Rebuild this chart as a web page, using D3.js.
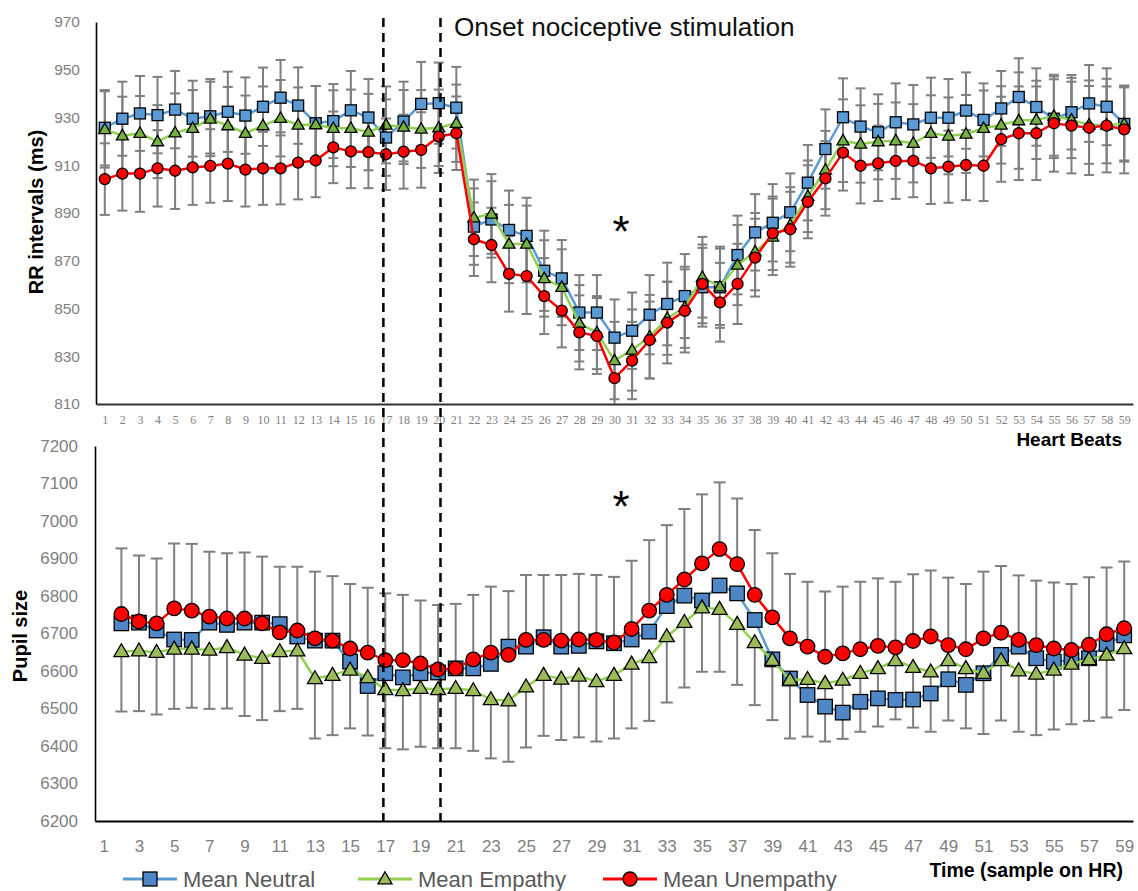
<!DOCTYPE html>
<html><head><meta charset="utf-8">
<script src="https://cdn.jsdelivr.net/npm/d3@7"></script>
<style>body{margin:0;background:#fff;} svg{display:block;}</style>
</head><body>
<svg id="chart" width="1138" height="891"></svg>
<script>
// ---------------- DATA ----------------
const beats = [1,2,3,4,5,6,7,8,9,10,11,12,13,14,15,16,17,18,19,20,21,22,23,24,25,26,27,28,29,30,31,32,33,34,35,36,37,38,39,40,41,42,43,44,45,46,47,48,49,50,51,52,53,54,55,56,57,58,59];
const pupilBeats = beats.slice(1);           // pupil samples start at beat 2
const rrTicks = [810,830,850,870,890,910,930,950,970];
const pupilTicks = [6200,6300,6400,6500,6600,6700,6800,6900,7000,7100,7200];
const pupilXTicks = [1,3,5,7,9,11,13,15,17,19,21,23,25,27,29,31,33,35,37,39,41,43,45,47,49,51,53,55,57,59];
const seriesNames = ["Mean Neutral","Mean Empathy","Mean Unempathy"];
const onsetMarks = [16.85, 20.1];

// RR intervals (ms), beats 1..59
const rrNeutral = [925.7,929.5,931.7,931,933.3,929.5,930.5,932.4,930.8,934.5,938.3,935,927.6,928.5,933,930,921.6,928.3,935.7,936,934.1,884.3,887.3,882.9,880.4,865.8,862.6,848.3,848.3,837.8,840.7,847.4,851.9,855.2,858.9,858.9,872.4,881.9,885.9,890.3,902.7,916.8,930.1,926.2,923.8,928,927.1,929.9,929.9,932.9,929,933.8,938.6,934.4,929.5,932.2,935.9,934.5,927.3];
const rrEmpathy = [925,922.4,923.4,919.9,923.6,925.5,929.4,926.6,923.4,926.6,929.7,926.9,927.1,925.5,925.5,923.9,926.9,926,925.2,925.7,927.6,888,889.6,877,877,862.6,858.9,843.8,839.9,828.2,832.6,838.2,845.9,850.5,863.1,859.1,868.2,873.8,880,885,897,908,920.3,918.9,919.9,920.3,919.2,923.4,922.3,923.1,925.5,926.9,928.7,929,930.6,929,926.9,926.9,927.3];
const rrUnempathy = [904.2,906.5,906.5,908.7,907.7,909.1,909.7,910.7,908.2,908.7,908.7,911.1,912,917.5,915.8,915.5,914.6,915.7,916.4,922,923.4,879,876.6,864.5,863.6,855.2,849.1,840,838.5,820.8,828.2,836.8,844.1,849,860.3,852.6,860.3,871.3,881.5,883.2,894.7,904.5,915.3,909.8,910.8,911.8,911.8,908.7,909.4,910.1,909.8,920.9,923.4,923.4,927.6,926.6,925.7,926.6,925];
// RR error (ms)
const rrNeutralErr = [15.8,15.5,15.7,16,16.2,15.9,15.6,16.8,16,16.4,15.8,16,15.6,15.5,16.5,16.1,16,16.7,17.6,17,17.1,16,16,16.5,16,16.8,16.1,15.7,15.7,16,16,16.6,17.3,17.6,16.5,17,16.5,16,16.2,16.3,15.8,16.6,16.3,16,15.9,16.3,16.5,16.8,16.2,16,15.3,15.7,16.2,16.2,16.5,15.6,16.1,16.1,15.3];
const rrEmpathyErr = [16,16.3,15.6,15.3,16.5,16,15.6,16.2,15.8,16.4,16,15.7,16.1,15.9,16.2,16,16.1,15.5,16.3,16,16.2,16,16.7,16.4,16.1,16,15.9,16,15.3,16.2,17,17.5,15.3,17,16.9,16,16.8,16.2,16,15.8,15,16.4,17.3,16.2,15.8,16,16.4,15.9,16.1,16.3,15.8,16.2,20.2,16.4,16.6,16,16.3,16.1,15.8];
const rrUnempathyErr = [15,15.5,16,16,16,15.7,15.4,15.7,15.5,15.3,15.1,15.4,15.4,15,15.4,15.1,15,15.5,15.8,15.2,15.4,15.4,15.6,15.8,15.9,15.9,15.4,15.5,15.9,16.2,16.2,16.1,17.1,17.4,16.5,16.5,16.8,16.3,15.4,15.7,15.3,15.6,15.9,15.8,15.8,15.9,15.2,14.9,15.1,14.7,14.8,17.8,19.6,19.6,20.3,20,19.8,19.6,18.4];

// Pupil size, beats 2..59
const pupilNeutral = [6727,6729,6708,6684,6683,6729,6723,6729,6729,6725,6692,6681,6681,6625,6560,6594,6583,6594,6596,6607,6607,6619,6665,6665,6690,6665,6667,6679,6674,6684,6705,6773,6801,6788,6828,6807,6736,6631,6580,6536,6505,6489,6518,6527,6523,6524,6540,6578,6563,6594,6643,6665,6634,6625,6629,6634,6672,6695];
const pupilEmpathy = [6652,6654,6650,6659,6659,6656,6663,6643,6634,6652,6654,6580,6589,6603,6583,6551,6548,6554,6551,6554,6548,6524,6521,6558,6589,6579,6587,6572,6589,6619,6636,6692,6730,6769,6765,6725,6676,6629,6576,6578,6567,6576,6594,6607,6628,6610,6598,6628,6607,6594,6628,6601,6592,6603,6619,6631,6643,6660];
const pupilUnempathy = [6752,6732,6727,6767,6761,6745,6740,6740,6727,6703,6708,6687,6681,6660,6649,6629,6629,6620,6604,6607,6631,6649,6643,6683,6683,6681,6684,6683,6676,6712,6761,6803,6844,6887,6925,6885,6803,6743,6687,6665,6638,6647,6658,6667,6663,6680,6692,6669,6658,6687,6702,6683,6669,6660,6656,6670,6698,6714];
// Pupil error bars: Empathy drawn downward, Unempathy drawn upward
const pupilEmpathyErr = [160,161,166,160,157,157,163,163,165,159,155,160,160,156,155,157,157,156,157,160,161,157,163,162,162,163,164,160,169,172,169,176,174,171,167,162,167,160,156,153,155,157,156,155,157,161,160,160,160,162,160,163,163,159,161,164,167,164];
const pupilUnempathyErr = [175,176,173,173,178,173,174,176,178,175,170,178,172,172,173,178,174,168,172,172,172,176,170,173,173,175,175,173,175,182,188,186,188,184,178,175,173,171,172,173,174,178,180,180,175,178,176,180,174,178,178,172,172,176,176,180,178,178];

// ---------------- STYLE ----------------
const C = {
  neutralLine: "#5B9BD5", neutralFillTop: "#5B9BD5", neutralFillBot: "#4F86C6",
  empLine: "#92D050", empFillTop: "#75B043", empFillBot: "#9BBB59",
  unLine: "#FF0000", unFill: "#FF0000",
  err: "#7F7F7F", tick: "#7F7F7F", legendText: "#595959"
};
const SANS = "'Liberation Sans', Arial, sans-serif";

const svg = d3.select("#chart");

// ---------------- SCALES ----------------
const xTop = d3.scaleLinear().domain([0.5, 59.5]).range([96, 1133]);
const yTop = d3.scaleLinear().domain([810, 970]).range([404, 22]);
const xBot = d3.scaleLinear().domain([0.5, 59.5]).range([95, 1133]);
const yBot = d3.scaleLinear().domain([6200, 7200]).range([821, 446]);

// clip paths
const defs = svg.append("defs");
defs.append("clipPath").attr("id","clipTop").append("rect")
  .attr("x", 90).attr("y", yTop(970)-10).attr("width", 1050).attr("height", yTop(810)-yTop(970)+10);
defs.append("clipPath").attr("id","clipBot").append("rect")
  .attr("x", 90).attr("y", yBot(7200)-10).attr("width", 1050).attr("height", yBot(6200)-yBot(7200)+10);

// ---------------- AXES ----------------
function styleAxis(g, fontSize, family, color) {
  g.selectAll("text").attr("font-size", fontSize).attr("font-family", family).attr("fill", color);
}
const fmt = d3.format("d");
// top
const gyT = svg.append("g").attr("transform", `translate(${xTop.range()[0]},0)`)
  .call(d3.axisLeft(yTop).tickValues(rrTicks).tickFormat(fmt).tickSize(0).tickSizeOuter(0).tickPadding(16));
gyT.select(".domain").attr("stroke", "#000").attr("stroke-width", 1.6);
styleAxis(gyT, 15.5, SANS, C.tick);

const gxT = svg.append("g").attr("transform", `translate(0,${yTop(810)})`)
  .call(d3.axisBottom(xTop).tickValues(beats).tickFormat(fmt).tickSize(0).tickSizeOuter(0).tickPadding(11.5));
gxT.select(".domain").attr("stroke", "#333").attr("stroke-width", 2.2);
styleAxis(gxT, 12, "'Liberation Serif', 'Times New Roman', serif", C.tick);

// bottom
const gyB = svg.append("g").attr("transform", `translate(${xBot.range()[0]},0)`)
  .call(d3.axisLeft(yBot).tickValues(pupilTicks).tickFormat(fmt).tickSize(0).tickSizeOuter(0).tickPadding(17));
gyB.select(".domain").attr("stroke", "#000").attr("stroke-width", 1.6);
styleAxis(gyB, 17, SANS, C.tick);

const gxB = svg.append("g").attr("transform", `translate(0,${yBot(6200)})`)
  .call(d3.axisBottom(xBot).tickValues(pupilXTicks).tickFormat(fmt).tickSize(0).tickSizeOuter(0).tickPadding(19));
gxB.select(".domain").attr("stroke", "#000").attr("stroke-width", 2);
styleAxis(gxB, 17, SANS, C.tick);

// ---------------- ERROR BARS ----------------
function errBars(g, xs, vals, errs, x, y, mode, cap) {
  const data = xs.map((b,i)=>({b, v: vals[i], e: errs[i]}));
  const grp = g.append("g");
  data.forEach(d => {
    const lo = mode === "up" ? d.v : d.v - d.e;
    const hi = mode === "down" ? d.v : d.v + d.e;
    const cx = x(d.b);
    grp.append("line").attr("x1", cx).attr("x2", cx).attr("y1", y(lo)).attr("y2", y(hi))
      .attr("stroke", C.err).attr("stroke-width", 2);
    if (mode !== "down") grp.append("line").attr("x1", cx-cap).attr("x2", cx+cap).attr("y1", y(hi)).attr("y2", y(hi))
      .attr("stroke", C.err).attr("stroke-width", 2);
    if (mode !== "up") grp.append("line").attr("x1", cx-cap).attr("x2", cx+cap).attr("y1", y(lo)).attr("y2", y(lo))
      .attr("stroke", C.err).attr("stroke-width", 2);
  });
}

const topErr = svg.append("g").attr("clip-path","url(#clipTop)");
errBars(topErr, beats, rrNeutral, rrNeutralErr, xTop, yTop, "both", 5);
errBars(topErr, beats, rrEmpathy, rrEmpathyErr, xTop, yTop, "both", 5);
errBars(topErr, beats, rrUnempathy, rrUnempathyErr, xTop, yTop, "both", 5);

const botErr = svg.append("g").attr("clip-path","url(#clipBot)");
errBars(botErr, pupilBeats, pupilEmpathy, pupilEmpathyErr, xBot, yBot, "down", 6);
errBars(botErr, pupilBeats, pupilUnempathy, pupilUnempathyErr, xBot, yBot, "up", 6);

// ---------------- SERIES ----------------
function marker(g, type, cx, cy, s, fill) {
  if (type === "square") {
    g.append("rect").attr("x", cx - s/2).attr("y", cy - s/2).attr("width", s).attr("height", s)
      .attr("fill", fill).attr("stroke", "#000").attr("stroke-width", 1.3);
  } else if (type === "triangle") {
    const h = s * Math.sqrt(3) / 2;
    g.append("path").attr("d", `M${cx},${cy - h*0.6}L${cx + s/2},${cy + h*0.4}L${cx - s/2},${cy + h*0.4}Z`)
      .attr("fill", fill).attr("stroke", "#000").attr("stroke-width", 1.3);
  } else {
    g.append("circle").attr("cx", cx).attr("cy", cy).attr("r", s/2)
      .attr("fill", fill).attr("stroke", "#000").attr("stroke-width", 1.3);
  }
}
function series(xs, vals, x, y, lineColor, lineW, type, size, fill, clip) {
  const g = svg.append("g").attr("clip-path", clip);
  const line = d3.line().x((d,i)=>x(xs[i])).y(d=>y(d));
  g.append("path").attr("d", line(vals)).attr("fill","none").attr("stroke", lineColor)
    .attr("stroke-width", lineW).attr("stroke-linejoin","round");
  vals.forEach((v,i)=> marker(g, type, x(xs[i]), y(v), size, fill));
}

series(beats, rrNeutral, xTop, yTop, C.neutralLine, 2.5, "square", 11, C.neutralFillTop, "url(#clipTop)");
series(beats, rrEmpathy, xTop, yTop, C.empLine, 2.5, "triangle", 12, C.empFillTop, "url(#clipTop)");
series(beats, rrUnempathy, xTop, yTop, C.unLine, 2.5, "circle", 11, C.unFill, "url(#clipTop)");

series(pupilBeats, pupilNeutral, xBot, yBot, C.neutralLine, 2.5, "square", 14.5, C.neutralFillBot, "url(#clipBot)");
series(pupilBeats, pupilEmpathy, xBot, yBot, C.empLine, 2.5, "triangle", 15, C.empFillBot, "url(#clipBot)");
series(pupilBeats, pupilUnempathy, xBot, yBot, C.unLine, 2.5, "circle", 14.5, C.unFill, "url(#clipBot)");

// ---------------- ANNOTATIONS ----------------
onsetMarks.forEach(m => {
  svg.append("line").attr("x1", xTop(m)).attr("x2", xTop(m)).attr("y1", 18).attr("y2", 823)
    .attr("stroke", "#000").attr("stroke-width", 2.5).attr("stroke-dasharray", "9,6");
});
svg.append("text").attr("x", 454).attr("y", 36).attr("font-family", SANS).attr("font-size", 26.2)
  .attr("fill", "#111").text("Onset nociceptive stimulation");
svg.append("text").attr("x", 621).attr("y", 247).attr("text-anchor","middle").attr("font-family", SANS)
  .attr("font-size", 44).attr("fill","#000").text("*");
svg.append("text").attr("x", 621).attr("y", 522).attr("text-anchor","middle").attr("font-family", SANS)
  .attr("font-size", 44).attr("fill","#000").text("*");

// axis titles
svg.append("text").attr("transform", "translate(43,212) rotate(-90)").attr("text-anchor","middle")
  .attr("font-family", SANS).attr("font-weight","bold").attr("font-size", 20).attr("fill","#000")
  .text("RR intervals (ms)");
svg.append("text").attr("transform", "translate(27,636) rotate(-90)").attr("text-anchor","middle")
  .attr("font-family", SANS).attr("font-weight","bold").attr("font-size", 20).attr("fill","#000")
  .text("Pupil size");
svg.append("text").attr("x", 1122).attr("y", 446).attr("text-anchor","end")
  .attr("font-family", SANS).attr("font-weight","bold").attr("font-size", 19).attr("fill","#000")
  .text("Heart Beats");
svg.append("text").attr("x", 1123).attr("y", 877).attr("text-anchor","end")
  .attr("font-family", SANS).attr("font-weight","bold").attr("font-size", 19.5).attr("fill","#000")
  .text("Time (sample on HR)");

// ---------------- LEGEND ----------------
const legendItems = [
  {name: seriesNames[0], line: C.neutralLine, type: "square", fill: C.neutralFillBot, x: 123},
  {name: seriesNames[1], line: C.empLine, type: "triangle", fill: C.empFillBot, x: 358},
  {name: seriesNames[2], line: C.unLine, type: "circle", fill: C.unFill, x: 603}
];
const lg = svg.append("g");
legendItems.forEach(it => {
  const ly = 879;
  lg.append("line").attr("x1", it.x).attr("x2", it.x + 54).attr("y1", ly).attr("y2", ly)
    .attr("stroke", it.line).attr("stroke-width", 3);
  marker(lg, it.type, it.x + 27, ly, 14, it.fill);
  lg.append("text").attr("x", it.x + 60).attr("y", ly + 8).attr("font-family", SANS)
    .attr("font-size", 22).attr("fill", C.legendText).text(it.name);
});
</script>
</body></html>
